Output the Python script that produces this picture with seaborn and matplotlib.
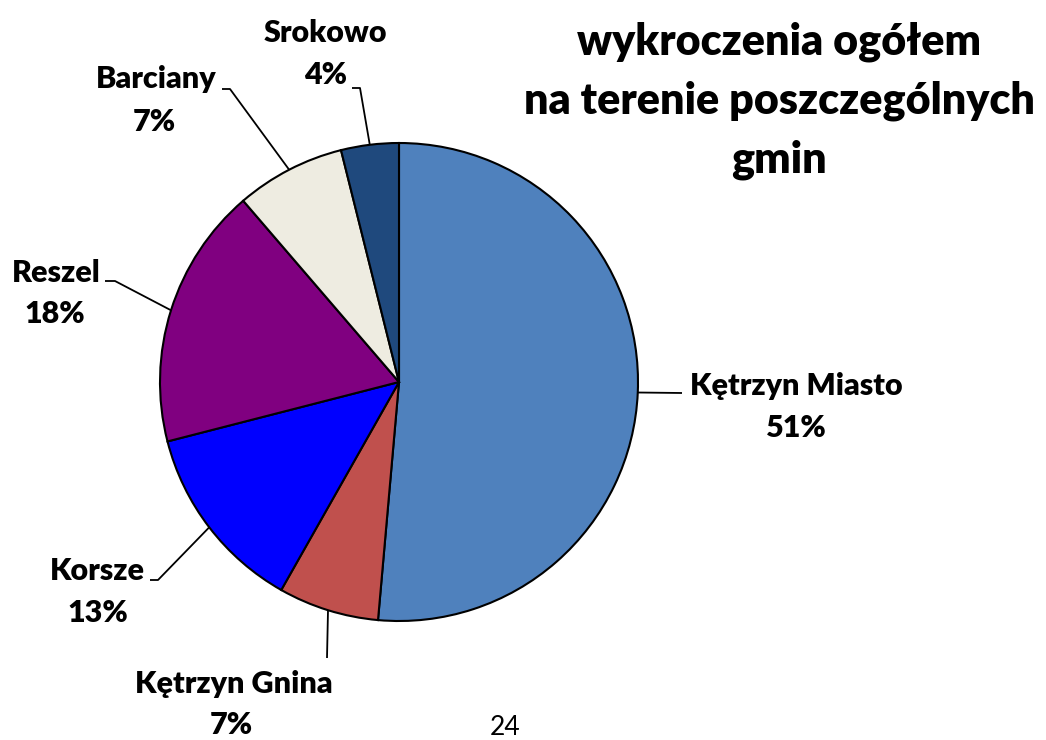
import numpy as np
import matplotlib
matplotlib.use('Agg')
import matplotlib.pyplot as plt
import seaborn as sns

# data
gminy = ['Kętrzyn Miasto', 'Kętrzyn Gnina', 'Korsze', 'Reszel', 'Barciany', 'Srokowo']
udzial = [51.4, 6.8, 12.8, 17.7, 7.4, 3.9]
kolory = ['#4F81BD', '#C0504D', '#0000FF', '#800080', '#EEECE1', '#1F497D']
tytul = 'wykroczenia ogółem\nna terenie poszczególnych\ngmin'
strona = '24'

sns.set_theme(style='white')
plt.rcParams['font.family'] = ['Lato', 'DejaVu Sans']

W, H = 1046, 740
CX, CY, R = 399, 382, 239   # pie centre / radius in pixels (y from top)

# label layout (pixels, y from top): name x, alignment, name baseline, pct centre x, pct baseline
name_pos = [(796, 'center', 395), (234, 'center', 693), (145, 'right', 580),
            (101, 'right', 282), (217, 'right', 88), (325, 'center', 42)]
pct_pos = [(796, 437), (231, 734), (98, 622), (55, 323), (154, 131), (326, 84)]
# leader elbows: points from the label side toward the pie
leader = [[(682, 393)],
          [(327, 658)],
          [(150, 580), (158, 580)],
          [(105, 281), (115, 281)],
          [(222, 89), (230, 89)],
          [(352, 88), (360, 88)]]

fig = plt.figure(figsize=(W / 100, H / 100), dpi=100)
ax = fig.add_axes([0, 0, 1, 1])

wedges, _ = ax.pie(udzial, colors=kolory, startangle=90, counterclock=False,
                   center=(CX, H - CY), radius=R, frame=False,
                   wedgeprops=dict(edgecolor='black', linewidth=1.5))
ax.set_xlim(0, W)
ax.set_ylim(0, H)
ax.set_aspect('equal')
ax.axis('off')

for w, name, val, npos, ppos, elb in zip(wedges, gminy, udzial, name_pos, pct_pos, leader):
    mid = np.deg2rad((w.theta1 + w.theta2) / 2)
    ex, ey = CX + R * np.cos(mid), (H - CY) + R * np.sin(mid)
    xs = [p[0] for p in elb] + [ex]
    ys = [H - p[1] for p in elb] + [ey]
    ax.plot(xs, ys, color='black', lw=1.3, solid_capstyle='butt')
    ax.text(npos[0], H - npos[2], name, ha=npos[1], va='baseline',
            fontsize=22, fontweight='heavy', color='black')
    ax.text(ppos[0], H - ppos[1], f'{round(val)}%', ha='center', va='baseline',
            fontsize=22, fontweight='heavy', color='black')

ax.text(779, H - 22, tytul, ha='center', va='top', fontsize=31,
        fontweight='heavy', color='black', linespacing=1.55)
ax.text(505, H - 735, strona, ha='center', va='baseline', fontsize=19, color='black')

fig.savefig('out.png', dpi=100)
